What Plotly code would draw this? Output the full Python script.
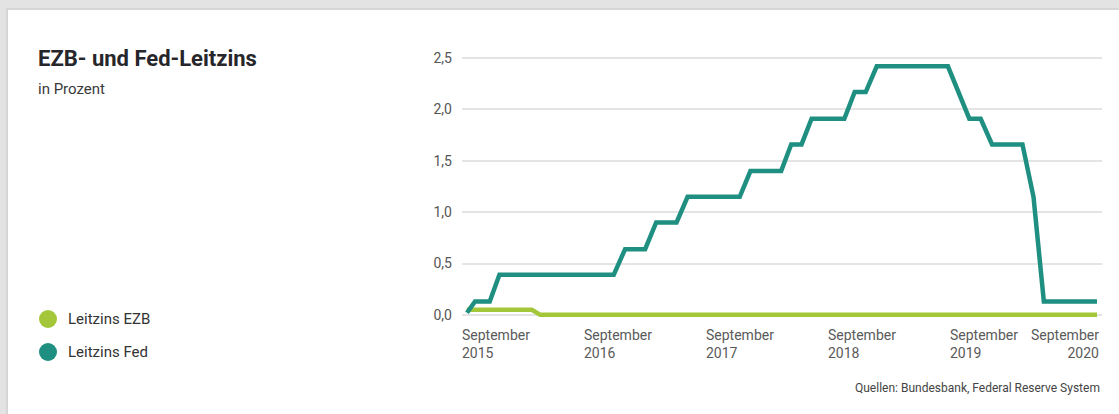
import plotly.graph_objects as go

# ---- data ----
fed_dates = ["2015-09-16", "2015-10-10", "2015-11-23", "2015-12-22", "2016-11-28",
             "2017-01-01", "2017-03-02", "2017-04-04", "2017-06-04", "2017-07-07",
             "2017-12-10", "2018-01-11", "2018-04-13", "2018-05-13", "2018-06-13",
             "2018-07-13", "2018-10-19", "2018-11-19", "2018-12-22", "2019-01-24",
             "2019-08-25", "2019-10-28", "2019-12-01", "2020-01-04", "2020-04-04",
             "2020-05-07", "2020-06-07", "2020-11-13"]
fed_values = [0.02, 0.13, 0.13, 0.39, 0.39,
              0.64, 0.64, 0.90, 0.90, 1.15,
              1.15, 1.40, 1.40, 1.66, 1.66,
              1.91, 1.91, 2.17, 2.17, 2.42,
              2.42, 1.91, 1.91, 1.66, 1.66,
              1.15, 0.13, 0.13]
ezb_dates = ["2015-09-15", "2016-03-28", "2016-04-22", "2020-11-13"]
ezb_values = [0.05, 0.05, 0.0, 0.0]

tick_dates = ["2015-09-01", "2016-09-01", "2017-09-01", "2018-09-01", "2019-09-01", "2020-11-13"]
tick_labels = ["September<br>2015", "September<br>2016", "September<br>2017",
               "September<br>2018", "September<br>2019", "September<br>2020"]
y_ticks = [0, 0.5, 1.0, 1.5, 2.0, 2.5]

series_names = ["Leitzins EZB", "Leitzins Fed"]
colors = ["#a3c739", "#1e8f80"]

W, H = 1119, 414
L, R, T, B = 462, 17, 53, 94
pw, ph = W - L - R, H - T - B


def px(x):
    return (x - L) / pw


def py(y):
    return (H - B - y) / ph


FONT = "Roboto"

fig = go.Figure()
fig.add_trace(go.Scatter(x=ezb_dates, y=ezb_values, mode="lines", name=series_names[0],
                         line=dict(color=colors[0], width=4.5), showlegend=False))
fig.add_trace(go.Scatter(x=fed_dates, y=fed_values, mode="lines", name=series_names[1],
                         line=dict(color=colors[1], width=4.5), showlegend=False))

shapes = []
# outer grey frame / shadow
shapes.append(dict(type="rect", xref="paper", yref="paper", x0=px(0), x1=px(W), y0=py(0), y1=py(10),
                   fillcolor="#e3e3e3", line_width=0, layer="below"))
shapes.append(dict(type="rect", xref="paper", yref="paper", x0=px(0), x1=px(8), y0=py(0), y1=py(H),
                   fillcolor="#e3e3e3", line_width=0, layer="below"))
shapes.append(dict(type="rect", xref="paper", yref="paper", x0=px(8), x1=px(W), y0=py(8), y1=py(10),
                   fillcolor="#d6d6d6", line_width=0, layer="below"))
shapes.append(dict(type="rect", xref="paper", yref="paper", x0=px(6), x1=px(8), y0=py(8), y1=py(H),
                   fillcolor="#d6d6d6", line_width=0, layer="below"))
# legend dots
for i, yy in enumerate([319, 352]):
    shapes.append(dict(type="circle", xref="paper", yref="paper",
                       x0=px(39), x1=px(57), y0=py(yy - 9), y1=py(yy + 9),
                       fillcolor=colors[i], line_width=0))

annotations = []
annotations.append(dict(text="<b>EZB- und Fed-Leitzins</b>", xref="paper", yref="paper",
                        x=px(36), y=py(58), xanchor="left", yanchor="middle", showarrow=False,
                        font=dict(family=FONT, size=22, color="#26262b")))
annotations.append(dict(text="in Prozent", xref="paper", yref="paper",
                        x=px(36), y=py(89), xanchor="left", yanchor="middle", showarrow=False,
                        font=dict(family=FONT, size=15, color="#3a3a3a")))
for i, yy in enumerate([319, 352]):
    annotations.append(dict(text=series_names[i], xref="paper", yref="paper",
                            x=px(66), y=py(yy), xanchor="left", yanchor="middle", showarrow=False,
                            font=dict(family=FONT, size=15, color="#333333")))
annotations.append(dict(text="Quellen: Bundesbank, Federal Reserve System", xref="paper", yref="paper",
                        x=px(1102), y=py(388), xanchor="right", yanchor="middle", showarrow=False,
                        font=dict(family=FONT, size=12, color="#444444")))
for i, (d, lab) in enumerate(zip(tick_dates, tick_labels)):
    last = i == len(tick_dates) - 1
    annotations.append(dict(text=lab, xref="x", yref="paper", x=d, y=0,
                            xanchor="right" if last else "left", yanchor="top",
                            align="right" if last else "left", yshift=-5,
                            xshift=4 if last else -2,
                            showarrow=False,
                            font=dict(family=FONT, size=14, color="#5a5a5a")))

fig.update_layout(
    width=W, height=H,
    margin=dict(l=L, r=R, t=T, b=B),
    paper_bgcolor="white", plot_bgcolor="white",
    separators=",.",
    shapes=shapes, annotations=annotations,
    font=dict(family=FONT, color="#555555"),
    xaxis=dict(type="date", range=["2015-09-01", "2020-11-28"], showgrid=False, zeroline=False,
               showticklabels=False, showline=False, ticks=""),
    yaxis=dict(range=[-0.05, 2.55], tickvals=y_ticks, tickformat=".1f", showgrid=True,
               gridcolor="#e4e4e4", gridwidth=1.5, zeroline=False, showline=False,
               ticks="", ticklabelstandoff=9, tickfont=dict(family=FONT, size=14, color="#555555")),
)

fig.write_html("out.html", config={"displayModeBar": False},
               post_script="document.body.style.margin='0';")
